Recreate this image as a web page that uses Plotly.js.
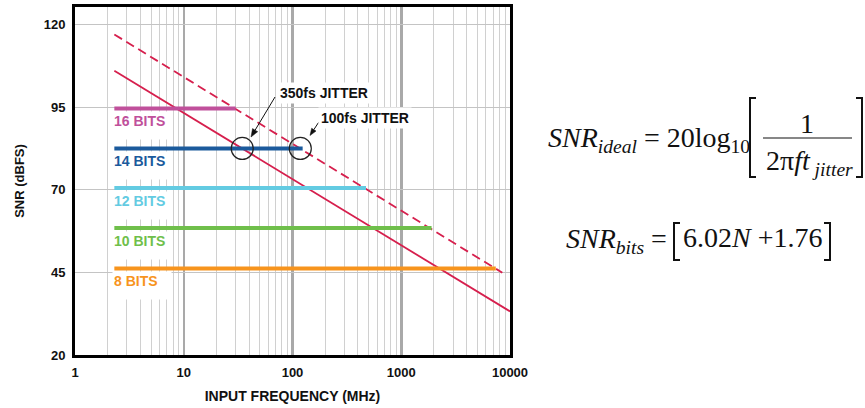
<!DOCTYPE html>
<html>
<head>
<meta charset="utf-8">
<script src="https://cdn.plot.ly/plotly-3.0.1.min.js"></script>
<style>html,body{margin:0;padding:0;background:#fff;}#chart{width:865px;height:408px;}</style>
</head>
<body>
<div id="chart"></div>
<script>
// ---------- data ----------
const bitsLabels = ['16 BITS', '14 BITS', '12 BITS', '10 BITS', '8 BITS'];
const bitsSNR = [94.6, 82.5, 70.5, 58.4, 46.2];          // dBFS
const bitsStartFreq = [2.3, 2.3, 2.3, 2.3, 2.3];         // MHz
const bitsEndFreq = [30, 124, 474, 1900, 7400];           // MHz

const jitter350Freq = [2.3, 10000];
const jitter350SNR = [106.0, 33.2];
const jitter100Freq = [2.3, 8500];
const jitter100SNR = [117.0, 44.9];

const circleFreq = [34.5, 118];
const circleSNR = [82.5, 82.5];

const xTickVals = [1, 10, 100, 1000, 10000];
const xTickText = ['1', '10', '100', '1000', '10000'];
const yTickVals = [20, 45, 70, 95, 120];

// ---------- styles ----------
const bitsColors = ['#c0509b', '#1b5a9c', '#63cbe2', '#6fbf4b', '#f7941d'];
const redColor = '#d61f4d';
const SANS = 'Liberation Sans, Arial, sans-serif';
const SERIF = 'Liberation Serif, Times New Roman, serif';

// plot area in pixels
const L = 75, R = 510, T = 7, B = 355, W = 865, H = 408;
const px = x => (x - L) / (R - L);
const py = y => (B - y) / (B - T);

const traces = [];
traces.push({
  x: jitter350Freq, y: jitter350SNR, mode: 'lines', type: 'scatter',
  line: {color: redColor, width: 1.8}, hoverinfo: 'skip'
});
traces.push({
  x: jitter100Freq, y: jitter100SNR, mode: 'lines', type: 'scatter',
  line: {color: redColor, width: 1.8, dash: '9px,5px'}, hoverinfo: 'skip'
});
bitsLabels.forEach((lab, i) => {
  traces.push({
    x: [bitsStartFreq[i], bitsEndFreq[i]], y: [bitsSNR[i], bitsSNR[i]],
    mode: 'lines', type: 'scatter', name: lab,
    line: {color: bitsColors[i], width: 4}, hoverinfo: 'skip'
  });
});
traces.push({
  x: circleFreq, y: circleSNR, mode: 'markers', type: 'scatter',
  marker: {symbol: 'circle-open', size: 22, color: '#222', line: {width: 1.2}},
  hoverinfo: 'skip'
});

const annotations = [];
bitsLabels.forEach((lab, i) => {
  annotations.push({
    x: Math.log10(bitsStartFreq[i]), y: bitsSNR[i], xref: 'x', yref: 'y',
    xanchor: 'left', yanchor: 'top', xshift: -2, yshift: -2.5,
    text: lab, showarrow: false, bgcolor: '#fff', borderpad: 1,
    width: 56, height: 25, align: 'left', valign: 'top',
    font: {family: SANS, size: 14, weight: 'bold', color: bitsColors[i]}
  });
});
// jitter labels
annotations.push({
  xref: 'paper', yref: 'paper', x: px(277), y: py(92.7), xanchor: 'left', yanchor: 'middle',
  text: '350fs JITTER', showarrow: false, bgcolor: '#fff', borderpad: 2,
  font: {family: SANS, size: 14, weight: 'bold', color: '#111'}
});
annotations.push({
  xref: 'paper', yref: 'paper', x: px(318), y: py(118.3), xanchor: 'left', yanchor: 'middle',
  text: '100fs JITTER', showarrow: false, bgcolor: '#fff', borderpad: 2,
  font: {family: SANS, size: 14, weight: 'bold', color: '#111'}
});
// formulas
const fFont = {family: SERIF, size: 28, color: '#111'};
annotations.push({
  xref: 'paper', yref: 'paper', x: px(546), y: py(139), xanchor: 'left', yanchor: 'middle',
  text: '<i>SNR</i><sub><i>ideal</i></sub> = 20log<sub>10</sub>', showarrow: false, font: fFont
});
annotations.push({
  xref: 'paper', yref: 'paper', x: px(807), y: py(124), xanchor: 'center', yanchor: 'middle',
  text: '1', showarrow: false, font: fFont
});
annotations.push({
  xref: 'paper', yref: 'paper', x: px(764), y: py(162), xanchor: 'left', yanchor: 'middle',
  text: '2π<i>ft</i><sub><i> jitter</i></sub>', showarrow: false, font: fFont
});
annotations.push({
  xref: 'paper', yref: 'paper', x: px(564), y: py(240), xanchor: 'left', yanchor: 'middle',
  text: '<i>SNR</i><sub><i>bits</i></sub> =', showarrow: false, font: fFont
});
annotations.push({
  xref: 'paper', yref: 'paper', x: px(681), y: py(238), xanchor: 'left', yanchor: 'middle',
  text: '6.02<i>N</i> +1.76', showarrow: false, font: fFont
});

function arrowShapes(tx, ty, hx, hy, len, half) {
  const dx = hx - tx, dy = hy - ty, d = Math.hypot(dx, dy);
  const ux = dx / d, uy = dy / d;
  const bx = hx - ux * len, by = hy - uy * len;
  const pxp = -uy, pyp = ux;
  return [
    {type: 'line', xref: 'paper', yref: 'paper', x0: px(tx), y0: py(ty), x1: px(bx), y1: py(by),
     line: {color: '#111', width: 1}},
    {type: 'path', xref: 'paper', yref: 'paper', fillcolor: '#111', line: {color: '#111', width: 0.5},
     path: `M ${px(hx)} ${py(hy)} L ${px(bx + pxp * half)} ${py(by + pyp * half)} L ${px(bx - pxp * half)} ${py(by - pyp * half)} Z`}
  ];
}

const shapes = [
  // fraction bar
  {type: 'line', xref: 'paper', yref: 'paper', x0: px(763), x1: px(852), y0: py(138), y1: py(138),
   line: {color: '#111', width: 1.2}},
  // big brackets formula 1
  {type: 'path', xref: 'paper', yref: 'paper',
   path: `M ${px(756)} ${py(98)} L ${px(750)} ${py(98)} L ${px(750)} ${py(177)} L ${px(756)} ${py(177)}`,
   line: {color: '#111', width: 2}},
  {type: 'path', xref: 'paper', yref: 'paper',
   path: `M ${px(856)} ${py(98)} L ${px(862)} ${py(98)} L ${px(862)} ${py(177)} L ${px(856)} ${py(177)}`,
   line: {color: '#111', width: 2}},
  // brackets formula 2
  {type: 'path', xref: 'paper', yref: 'paper',
   path: `M ${px(680)} ${py(223)} L ${px(674)} ${py(223)} L ${px(674)} ${py(260)} L ${px(680)} ${py(260)}`,
   line: {color: '#111', width: 2}},
  {type: 'path', xref: 'paper', yref: 'paper',
   path: `M ${px(824)} ${py(223)} L ${px(830)} ${py(223)} L ${px(830)} ${py(260)} L ${px(824)} ${py(260)}`,
   line: {color: '#111', width: 2}}
].concat(arrowShapes(275, 97, 251, 137, 8, 3))
 .concat(arrowShapes(318.5, 122.5, 310, 135.5, 7, 2.6));

const tickFont = {family: SANS, size: 13, weight: 'bold', color: '#111'};
const layout = {
  width: W, height: H,
  margin: {l: L, r: W - R, t: T, b: H - B, pad: 0},
  paper_bgcolor: '#fff', plot_bgcolor: '#fff',
  showlegend: false,
  font: {family: SANS},
  xaxis: {
    type: 'log', range: [0, 4], tickmode: 'array', tickvals: xTickVals, ticktext: xTickText,
    showgrid: true, gridcolor: '#a9a9a9', gridwidth: 2.5,
    minor: {dtick: 'D1', showgrid: true, gridcolor: '#d0d0d0', gridwidth: 1, ticks: ''},
    showline: true, linecolor: '#000', linewidth: 3, mirror: true, ticks: '', zeroline: false,
    tickfont: tickFont, ticklabelstandoff: 3,
    title: {text: 'INPUT FREQUENCY (MHz)', font: {family: SANS, size: 14, weight: 'bold', color: '#111'}, standoff: 13}
  },
  yaxis: {
    range: [20, 125.3], tickmode: 'array', tickvals: yTickVals,
    showgrid: true, gridcolor: '#c4c4c4', gridwidth: 1,
    showline: true, linecolor: '#000', linewidth: 3, mirror: true, ticks: '', zeroline: false,
    tickfont: tickFont, ticklabelstandoff: 4,
    title: {text: 'SNR (dBFS)', font: {family: SANS, size: 13, weight: 'bold', color: '#111'}, standoff: 17}
  },
  annotations: annotations,
  shapes: shapes
};

Plotly.newPlot('chart', traces, layout, {staticPlot: true, displayModeBar: false});
</script>
</body>
</html>
